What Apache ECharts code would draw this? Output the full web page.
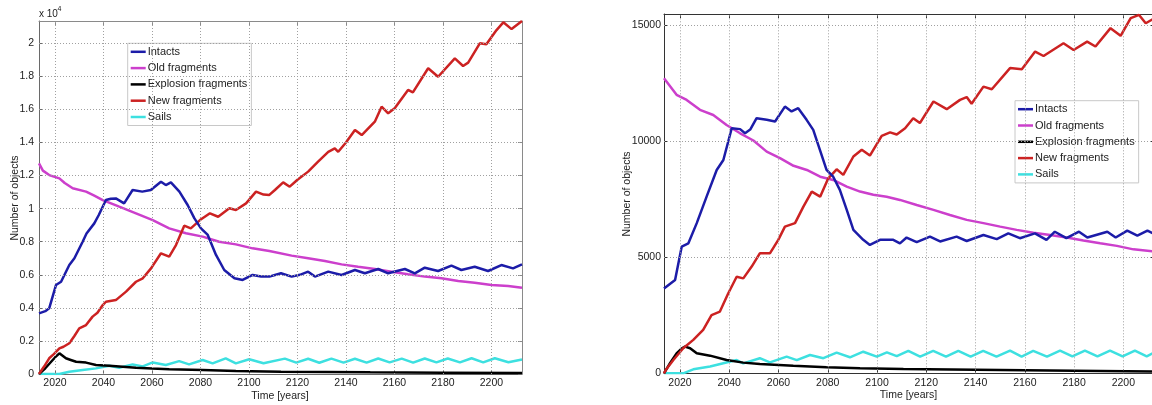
<!DOCTYPE html>
<html><head><meta charset="utf-8">
<script src="https://cdn.jsdelivr.net/npm/echarts@6/dist/echarts.min.js"></script>
<style>html,body{margin:0;padding:0;background:#fff}#c{width:1152px;height:405px}</style>
</head><body><div id="c"></div>
<script>
// ---------- DATA ----------
const seriesNames = ['Intacts','Old fragments','Explosion fragments','New fragments','Sails'];
const xTicks = [2020,2040,2060,2080,2100,2120,2140,2160,2180,2200];
const leftYTicks = [0,2000,4000,6000,8000,10000,12000,14000,16000,18000,20000];
const rightYTicks = [0,5000,10000,15000];

// Left panel  [year, number of objects]
const L_intacts = [[2013.4,3670],[2016,3800],[2017.6,3970],[2020.4,5380],[2022.5,5580],[2025.9,6590],[2028,7000],[2031.4,8000],[2033,8500],[2036.2,9110],[2038,9600],[2041,10520],[2043,10600],[2045.1,10620],[2048.5,10320],[2052,11130],[2056,11030],[2059.5,11130],[2063.7,11630],[2065.7,11430],[2067.8,11590],[2071.3,11030],[2074.7,10220],[2077.5,9410],[2080.2,8810],[2083,8410],[2086.4,7200],[2089.8,6290],[2094,5790],[2097.4,5690],[2101.5,5990],[2105,5900],[2108.4,5890],[2110.7,5990],[2113.2,6090],[2117.6,5890],[2121,6000],[2124.4,6190],[2127.2,5890],[2132.7,6190],[2138.2,5990],[2143.7,6290],[2147.8,6090],[2153.3,6350],[2157.4,6090],[2164.3,6350],[2168.4,6090],[2172.5,6430],[2178,6230],[2183.5,6550],[2187.6,6290],[2193.1,6490],[2198.6,6230],[2204.1,6590],[2208.9,6390],[2212.6,6630]];
const L_old = [[2013.4,12740],[2015,12300],[2017.6,12030],[2021.8,11830],[2024,11550],[2027.3,11230],[2032.8,11030],[2036,10800],[2039.7,10520],[2046.5,10120],[2053.4,9720],[2060.3,9310],[2067.1,8810],[2074,8510],[2080.9,8310],[2087.7,8000],[2094.6,7840],[2101.5,7600],[2108.4,7440],[2117.6,7160],[2124.4,7000],[2131.3,6830],[2138.2,6630],[2145,6490],[2151.9,6350],[2158.8,6190],[2165.6,6030],[2172.5,5890],[2179.4,5790],[2186.3,5620],[2193.1,5520],[2200,5380],[2206.9,5320],[2212.6,5220]];
const L_explosion = [[2013.4,0],[2016,350],[2018.4,740],[2020,1000],[2021.8,1250],[2024.5,950],[2026.5,850],[2028.7,740],[2032.8,690],[2036.9,540],[2042.4,500],[2047.9,440],[2053.4,380],[2060,330],[2067.1,280],[2080.9,240],[2094.6,180],[2113.2,140],[2150,100],[2180,80],[2212.6,60]];
const L_new = [[2013.4,0],[2015.5,450],[2017.6,950],[2019.5,1200],[2021.8,1550],[2023.5,1650],[2025.9,1860],[2028,2300],[2030,2760],[2032.8,2960],[2035.5,3470],[2037.5,3700],[2039.7,4170],[2041,4370],[2045.1,4470],[2049.3,4980],[2053.4,5580],[2056.2,5790],[2059.6,6390],[2063.7,7300],[2067.1,7100],[2069.9,7800],[2073.3,8970],[2076,8810],[2079.8,9310],[2083.9,9720],[2087.3,9510],[2091.9,10020],[2094.6,9920],[2098.8,10320],[2102.9,11030],[2106,10850],[2108.4,10830],[2110.7,11130],[2114.1,11590],[2116.8,11330],[2120,11750],[2124.4,12240],[2128.5,12840],[2132.7,13440],[2135.4,13650],[2136.8,13440],[2140,14000],[2143.7,14760],[2146.5,14450],[2151.9,15260],[2154.7,16170],[2157.4,15770],[2160.1,16070],[2165.6,17180],[2167.6,17030],[2173.9,18490],[2178,17980],[2184.9,19090],[2188.3,18630],[2190.4,18830],[2195.2,20000],[2197.9,19940],[2202.1,20800],[2204.9,21270],[2208.3,20860],[2212.6,21350]];
const L_sails = [[2013.4,0],[2021.8,0],[2025.9,140],[2031.4,240],[2036.9,340],[2042.4,500],[2046.5,380],[2052,580],[2056.2,460],[2060.3,700],[2065.7,540],[2071.2,780],[2075.3,580],[2080.9,850],[2085,640],[2090.4,950],[2094.6,640],[2100.1,890],[2106,650],[2114.8,930],[2119.5,690],[2124.4,920],[2129,680],[2134,930],[2139,690],[2143.7,920],[2148.5,690],[2153.3,940],[2158,700],[2163,930],[2167.7,690],[2172.5,940],[2177.3,700],[2182,940],[2187,700],[2191.8,950],[2196.6,700],[2201.4,950],[2207,710],[2212.6,880]];

// Right panel  [year, number of objects]
const R_intacts = [[2013.5,3650],[2014.2,3730],[2018,4020],[2020.7,5460],[2023.4,5600],[2026.8,6470],[2030.8,7610],[2034.9,8760],[2037.6,9190],[2041,10560],[2044.4,10520],[2046.4,10340],[2048.5,10500],[2051.1,10990],[2055.2,10920],[2058.6,10850],[2062.6,11490],[2065.3,11280],[2068,11420],[2071.4,10920],[2074.1,10490],[2076.8,9630],[2079.5,8760],[2082.2,8470],[2084.9,7900],[2087.7,7040],[2090.4,6180],[2094.4,5750],[2097.1,5530],[2101.2,5750],[2106.6,5750],[2109.3,5600],[2112,5850],[2116.1,5650],[2121.5,5890],[2125.6,5680],[2132.3,5890],[2136.4,5700],[2143.2,5960],[2148.6,5780],[2153.3,6030],[2158,5820],[2164.1,6030],[2168.8,5750],[2172.2,6100],[2176.9,5820],[2182,6100],[2185.4,5850],[2193.5,6100],[2196.9,5850],[2201.6,6150],[2205.7,5930],[2209.8,6150],[2212.7,6000]];
const R_old = [[2013.5,12710],[2018.6,12000],[2022.7,11780],[2028.1,11350],[2033.5,11130],[2038.9,10700],[2044.4,10340],[2049.8,10030],[2055.2,9550],[2060.6,9270],[2066.1,8940],[2071.5,8760],[2076.9,8470],[2082.2,8330],[2087.7,8040],[2093.1,7830],[2098.5,7690],[2103.9,7610],[2109.3,7470],[2116.1,7250],[2122.9,7040],[2129.6,6820],[2136.4,6610],[2143.2,6470],[2150,6320],[2156.7,6180],[2163.5,6060],[2170.3,5960],[2177,5850],[2183.8,5720],[2190.6,5600],[2197.4,5490],[2204.1,5340],[2212.7,5250]];
const R_explosion = [[2013.5,0],[2016,450],[2018.6,860],[2020.5,1050],[2022,1150],[2024.1,1080],[2026.8,860],[2032.2,760],[2038.9,570],[2045.7,460],[2052.4,400],[2066,320],[2079.5,260],[2093.1,220],[2110.7,180],[2140,150],[2170,120],[2212.7,80]];
const R_new = [[2013.5,0],[2014.2,140],[2017.3,570],[2021.3,1080],[2025.4,1440],[2029.4,1870],[2032.8,2510],[2036.2,2660],[2039.6,3450],[2043,4160],[2045.7,4090],[2049.1,4600],[2052.4,5170],[2056.5,5170],[2059.9,5750],[2062.6,6320],[2066.7,6470],[2070.1,7180],[2073.5,7830],[2076.9,7610],[2080.2,8400],[2083.6,8790],[2086.3,8550],[2090.4,9340],[2093.8,9630],[2097.1,9380],[2101.9,10230],[2105.3,10380],[2108,10290],[2111.4,10560],[2114.7,10990],[2117.4,10780],[2122.9,11710],[2128.3,11380],[2133.7,11780],[2136.4,11900],[2138.4,11610],[2143.2,12350],[2146.6,12240],[2154,13150],[2158.8,13100],[2164.2,13860],[2167.6,13670],[2175.7,14220],[2179.8,13930],[2185.3,14290],[2188.7,14080],[2194.8,14870],[2198.9,14540],[2203,15300],[2206.4,15440],[2209.1,15080],[2212.7,15300]];
const R_sails = [[2013.5,0],[2021.3,0],[2025.4,170],[2032.2,290],[2037.6,430],[2043,570],[2045.7,430],[2052.4,650],[2056.5,470],[2063.3,720],[2067.4,570],[2072.8,790],[2078.2,650],[2083.6,890],[2089,690],[2094.4,930],[2099.9,720],[2104,900],[2108,740],[2112.7,970],[2117.5,720],[2122.8,970],[2128,720],[2133,970],[2138,720],[2143.1,970],[2148.5,720],[2154,980],[2158.7,720],[2163.4,970],[2169,720],[2174.3,980],[2179.3,725],[2184.4,980],[2189.5,725],[2194.6,980],[2199.7,725],[2204.7,980],[2209.5,730],[2212.7,900]];

// ---------- STYLE ----------
const colors = ['#1c1ca8','#cc3fcc','#000000','#cc2222','#3de0e0'];
const FONT = "'Liberation Sans', Arial, sans-serif";
const TXT = '#222';
const GRIDLINE = {color:'#a0a0a0', type:[1,2], width:1};

const chart = echarts.init(document.getElementById('c'), null, {renderer:'canvas'});

function xAxisMain(grid, lineColor, min, max){
  return {type:'value', gridIndex:grid, min:min, max:max, position:'bottom',
    axisLine:{show:true, onZero:false, lineStyle:{color:lineColor, width:1}},
    axisTick:{show:true, inside:true, length:4, customValues:xTicks, lineStyle:{color:lineColor}},
    axisLabel:{customValues:xTicks, color:TXT, fontFamily:FONT, fontSize:10.5, margin:4, formatter:v => String(v)},
    splitLine:{show:false}};
}
function xAxisTop(grid, lineColor, min, max){
  return {type:'value', gridIndex:grid, min:min, max:max, position:'top',
    axisLine:{show:true, onZero:false, lineStyle:{color:lineColor, width:1}},
    axisTick:{show:true, inside:true, length:4, customValues:xTicks, lineStyle:{color:lineColor}},
    axisLabel:{show:false}, splitLine:{show:false}};
}
function yAxisMain(grid, lineColor, max, ticks, fmt, margin){
  return {type:'value', gridIndex:grid, min:0, max:max, position:'left',
    axisLine:{show:true, onZero:false, lineStyle:{color:lineColor, width:1}},
    axisTick:{show:true, inside:true, length:4, customValues:ticks, lineStyle:{color:lineColor}},
    axisLabel:{customValues:ticks, color:TXT, fontFamily:FONT, fontSize:10.5, margin:margin, formatter:fmt},
    splitLine:{show:false}};
}
function yAxisRight(grid, lineColor, max, ticks){
  return {type:'value', gridIndex:grid, min:0, max:max, position:'right',
    axisLine:{show:true, onZero:false, lineStyle:{color:lineColor, width:1}},
    axisTick:{show:true, inside:true, length:4, customValues:ticks, lineStyle:{color:lineColor}},
    axisLabel:{show:false}, splitLine:{show:false}};
}

const leftData = [L_intacts, L_old, L_explosion, L_new, L_sails];
const rightData = [R_intacts, R_old, R_explosion, R_new, R_sails];
const series = [];

// dotted grid lines, built from the tick arrays
function gridSeries(xi, yi, yTicks, xMin){
  return {type:'line', xAxisIndex:xi, yAxisIndex:yi, data:[[xMin,0]], symbol:'none', silent:true,
    lineStyle:{opacity:0}, z:1, tooltip:{show:false},
    markLine:{silent:true, symbol:['none','none'], label:{show:false}, animation:false,
      lineStyle:GRIDLINE, emphasis:{disabled:true},
      data: xTicks.map(v => ({xAxis:v})).concat(yTicks.filter(v => v > 0).map(v => ({yAxis:v})))}};
}
series.push(gridSeries(0,0,leftYTicks,2013.4));
series.push(gridSeries(2,2,rightYTicks,2013.5));

const order = [4,2,1,3,0];
order.forEach(i => series.push({name:seriesNames[i], type:'line', xAxisIndex:0, yAxisIndex:0,
  data:leftData[i], showSymbol:false, symbol:'none', color:colors[i], lineStyle:{width:2.5, color:colors[i]}, z:2}));
order.forEach(i => series.push({name:seriesNames[i], type:'line', xAxisIndex:2, yAxisIndex:2,
  data:rightData[i], showSymbol:false, symbol:'none', color:colors[i], lineStyle:{width:2.5, color:colors[i]}, z:2}));

function legend(left, top){
  return {show:true, orient:'vertical', left:left, top:top, data:seriesNames,
    icon:'rect', itemWidth:15, itemHeight:2.5, itemGap:3.3,
    padding:[2,4,2,3], backgroundColor:'#fff', borderColor:'#c8c8c8', borderWidth:1,
    textStyle:{fontFamily:FONT, fontSize:11, lineHeight:13, color:TXT, padding:[0,0,0,-3]},
    selectedMode:false};
}

const option = {
  animation:false,
  backgroundColor:'#fff',
  grid:[
    {left:39, top:21, width:483, height:353, outerBoundsMode:'none', containLabel:false},
    {left:664, top:14, width:490.6, height:359.3, outerBoundsMode:'none', containLabel:false}
  ],
  xAxis:[
    xAxisMain(0,'#6a6a6a',2013.4,2212.6), xAxisTop(0,'#8a8a8a',2013.4,2212.6),
    xAxisMain(1,'#333',2013.5,2212.7), xAxisTop(1,'#333',2013.5,2212.7)
  ],
  yAxis:[
    yAxisMain(0,'#6a6a6a',21350,leftYTicks, v => String(+(v/10000).toFixed(1)), 5),
    yAxisRight(0,'#8a8a8a',21350,leftYTicks),
    yAxisMain(1,'#333',15480,rightYTicks, v => String(v), 3),
    yAxisRight(1,'#333',15480,rightYTicks)
  ],
  legend:[legend(127.7,43.3), legend(1015,100.7)],
  series:series,
  graphic:[
    {type:'text', left:39, top:9, style:{text:'x 10', font:'10px '+FONT, fill:TXT}},
    {type:'text', left:57.5, top:6, style:{text:'4', font:'7px '+FONT, fill:TXT}},
    {type:'text', x:15, y:198, rotation:Math.PI/2, style:{text:'Number of objects', font:'10.5px '+FONT, fill:TXT, align:'center', verticalAlign:'middle'}},
    {type:'text', x:627, y:194, rotation:Math.PI/2, style:{text:'Number of objects', font:'10.5px '+FONT, fill:TXT, align:'center', verticalAlign:'middle'}},
    {type:'text', x:280, y:396.5, style:{text:'Time [years]', font:'10.5px '+FONT, fill:TXT, align:'center', verticalAlign:'middle'}},
    {type:'text', x:908.5, y:395, style:{text:'Time [years]', font:'10.5px '+FONT, fill:TXT, align:'center', verticalAlign:'middle'}}
  ]
};
chart.setOption(option);
</script>
</body></html>
